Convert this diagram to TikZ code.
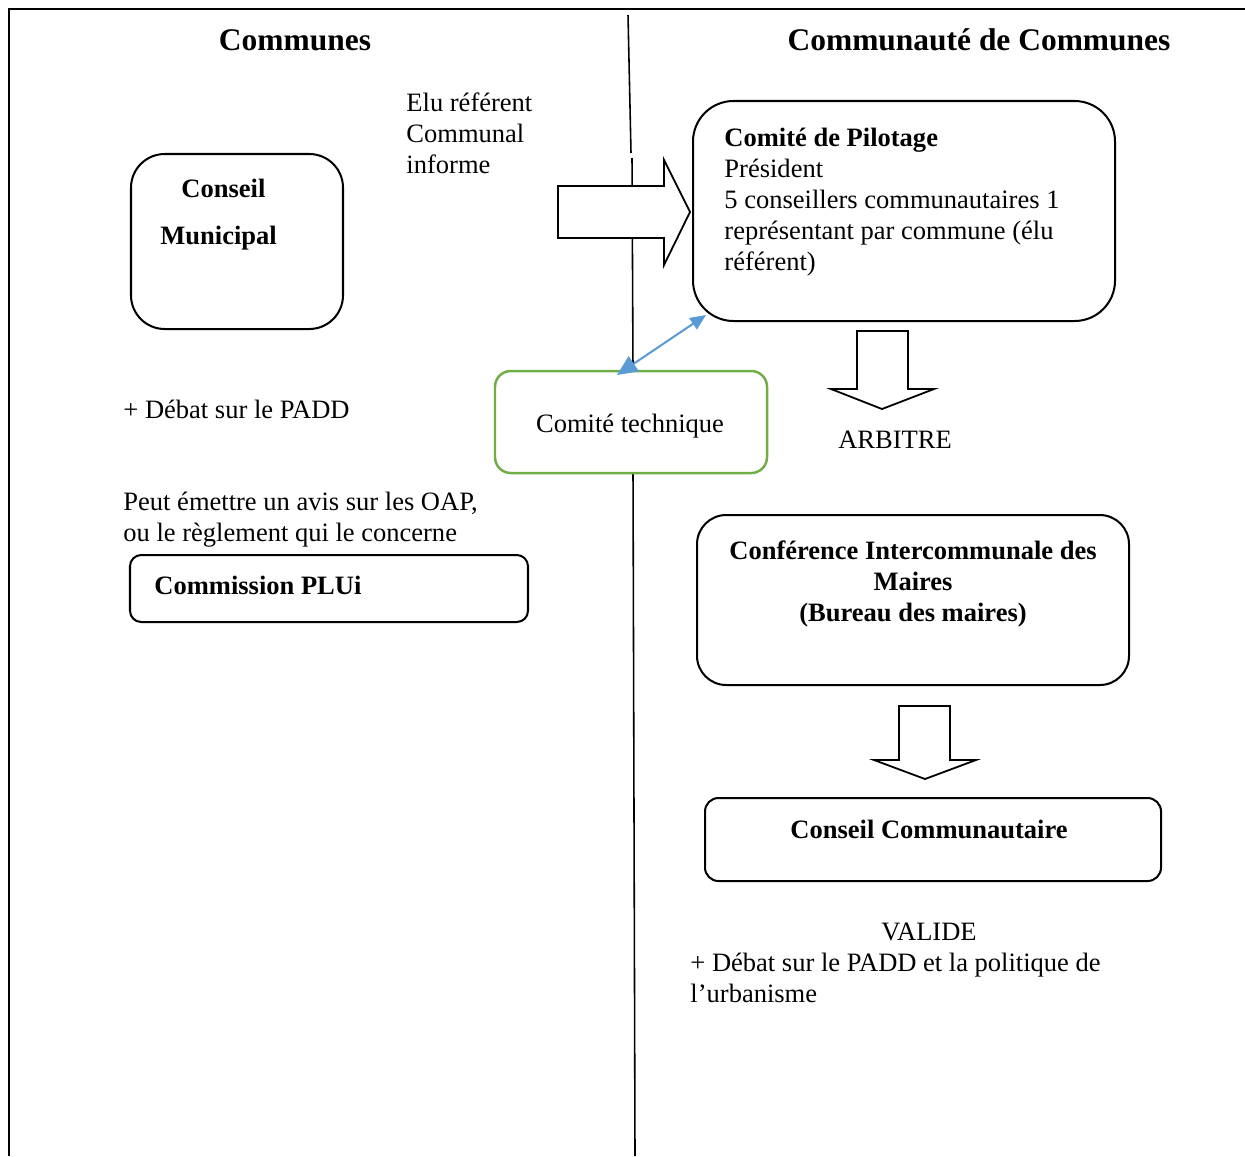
\documentclass[tikz,border=0pt]{standalone}
\usepackage{fontspec}
\setmainfont{Liberation Serif}
\usetikzlibrary{arrows.meta,fit}
\definecolor{techgreen}{RGB}{112,173,71}
\definecolor{linkblue}{RGB}{91,155,213}
\tikzset{
  box/.style={draw=black,line width=0.9pt,fill=white,inner sep=0pt},
  txt/.style={inner sep=0pt,font=\fontsize{11.8}{13.8}\selectfont},
  btxt/.style={inner sep=0pt,font=\fontsize{11.8}{13.8}\selectfont\bfseries},
  titletxt/.style={inner sep=0pt,font=\fontsize{14}{16.1}\selectfont\bfseries},
  blockarrow/.style={draw=black,line width=0.8pt,fill=white,line join=miter},
  divider/.style={draw=black,line width=0.7pt},
  linkarrow/.style={draw=linkblue,line width=0.9pt,{Triangle[length=9pt,width=8pt]}-{Triangle[length=7pt,width=6pt]}},
}
\begin{document}
\begin{tikzpicture}[x=0.445pt,y=-0.445pt]
\useasboundingbox (0,0) rectangle (1245,1156);
% frame
\draw[line width=0.9pt] (9,1156) -- (9,9) -- (1245,9);
% divider
\draw[divider] (628,15) -- (631,153);
\draw[divider] (632,158) -- (633,371);
\draw[divider] (633,473) -- (635,1156);
% titles
\node[titletxt,anchor=base] (tcom) at (295,50) {Communes};
\node[titletxt,anchor=base] (tcc) at (979,50) {Communauté de Communes};
% boxes
\node[box,rounded corners=15pt,fit={(131,154)(343,329)}] (cm) {};
\node[box,rounded corners=18pt,fit={(693,101)(1115,321)}] (cp) {};
\node[box,draw=techgreen,line width=1.1pt,rounded corners=7pt,fit={(495,371)(767,473)}] (ct) {};
\node[box,rounded corners=5pt,fit={(130,555)(528,622)}] (plui) {};
\node[box,rounded corners=13pt,fit={(697,515)(1129,685)}] (cim) {};
\node[box,rounded corners=6pt,fit={(705,798)(1161,881)}] (ccom) {};
% block arrows
\draw[blockarrow] (558,186) -- (664,186) -- (664,160) -- (690,212) -- (664,265) -- (664,238) -- (558,238) -- cycle;
\draw[blockarrow] (857,331) -- (908,331) -- (908,389) -- (934,389) -- (882,409) -- (831,389) -- (857,389) -- cycle;
\draw[blockarrow] (899,706) -- (950,706) -- (950,760) -- (976,760) -- (925,779) -- (874,760) -- (899,760) -- cycle;
% blue link
\coordinate (linkA) at (617,375);
\coordinate (linkB) at (706,315);
\draw[linkarrow] (linkA) -- (linkB);
% texts
\node[btxt,anchor=base west] (tconseil) at (181,197) {Conseil};
\node[btxt,anchor=base west] (tmunicipal) at (160,244) {Municipal};
\node[txt,anchor=north west,align=left] (telu) at (406,89) {\strut Elu référent\\Communal\\informe};
\node[txt,anchor=north west,align=left] (tcp) at (724,124) {\strut\textbf{Comité de Pilotage}\\Président\\5 conseillers communautaires 1\\représentant par commune (élu\\référent)};
\node[txt,anchor=base west] (tdebat) at (123,418) {+ Débat sur le PADD};
\node[txt,anchor=base] (tct) at (630,432) {Comité technique};
\node[txt,anchor=base] (tarb) at (895,448) {ARBITRE};
\node[txt,anchor=north west,align=left] (toap) at (123,488) {\strut Peut émettre un avis sur les OAP,\\ou le règlement qui le concerne};
\node[btxt,anchor=base west] (tplui) at (154,594) {Commission PLUi};
\node[btxt,anchor=north,align=center] (tcim) at (913,537) {\strut Conférence Intercommunale des\\Maires\\(Bureau des maires)};
\node[btxt,anchor=base] (tccom) at (929,838) {Conseil Communautaire};
\node[txt,anchor=base] (tvalide) at (929,940) {VALIDE};
\node[txt,anchor=north west,align=left] (tdebat2) at (690,949) {\strut + Débat sur le PADD et la politique de\\l’urbanisme};
\end{tikzpicture}
\end{document}
